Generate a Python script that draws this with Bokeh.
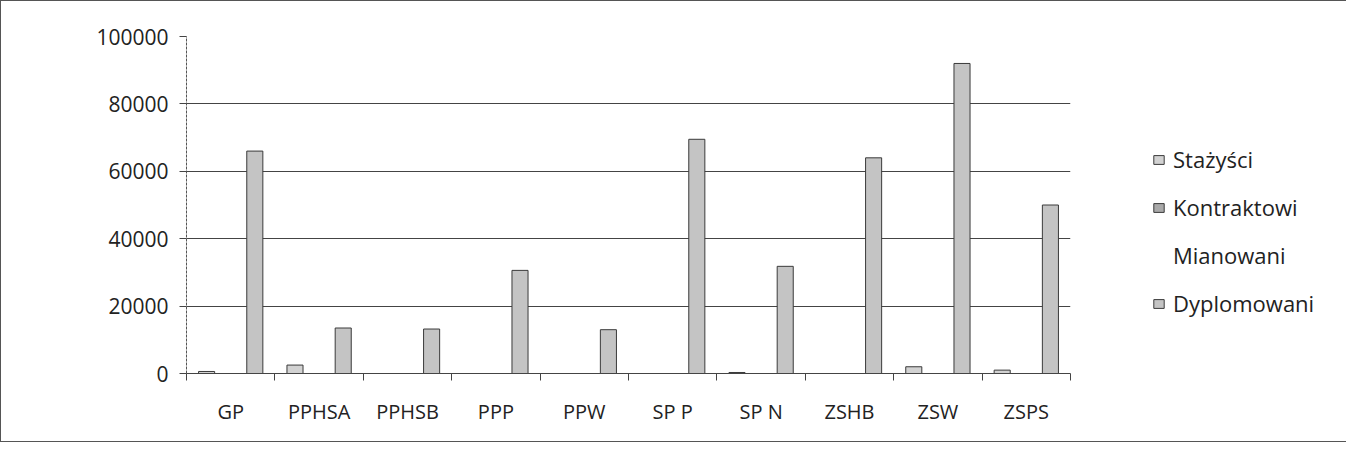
from bokeh.plotting import figure
from bokeh.models import FixedTicker, Legend, LegendItem, NumeralTickFormatter, ColumnDataSource, Range1d
from bokeh.embed import file_html
from bokeh.resources import INLINE
import numpy as np

categories = ["GP", "PPHSA", "PPHSB", "PPP", "PPW", "SP P", "SP N", "ZSHB", "ZSW", "ZSPS"]
series_names = ["Stażyści", "Kontraktowi", "Mianowani", "Dyplomowani"]
stazysci = [600, 2500, 0, 0, 0, 0, 300, 0, 2000, 1000]
kontraktowi = [0, 0, 0, 0, 0, 0, 0, 0, 0, 0]
mianowani = [0, 0, 0, 0, 0, 0, 0, 0, 0, 0]
dyplomowani = [66000, 13500, 13200, 30600, 13000, 69500, 31800, 64000, 92000, 50000]
y_ticks = [0, 20000, 40000, 60000, 80000, 100000]

series_values = [stazysci, kontraktowi, mianowani, dyplomowani]
fills = ["#d2d2d2", "#a9a9a9", None, "#c4c4c4"]
lines = ["#3a3a3a", "#3a3a3a", None, "#3a3a3a"]

FONT = "Open Sans"
n = len(categories)
gap = 1.5
bw = 1.0 / (len(series_names) + gap)

p = figure(frame_width=884, frame_height=337, min_border_left=185, min_border_right=263,
           min_border_top=35, min_border_bottom=68,
           x_range=Range1d(0, n), y_range=Range1d(0, 100000),
           output_backend="svg", toolbar_location=None)
p.styles = {"border": "1px solid #555"}
p.outline_line_color = None
p.background_fill_color = "white"
p.border_fill_color = "white"

idx = np.arange(n)
items = []
for k, (name, vals) in enumerate(zip(series_names, series_values)):
    xs = idx + bw * gap / 2 + (k + 0.5) * bw
    src = ColumnDataSource(dict(x=xs, top=vals))
    r = p.vbar(x="x", top="top", width=bw, source=src,
               fill_color=fills[k] if fills[k] else "white",
               fill_alpha=1.0 if fills[k] else 0.0,
               line_color=lines[k] if lines[k] else None, line_width=1)
    items.append(LegendItem(label=name, renderers=[r]))

# x axis
p.xaxis.ticker = FixedTicker(ticks=[i + 0.5 for i in range(n)], minor_ticks=list(range(n + 1)))
p.xaxis.major_label_overrides = {i + 0.5: c for i, c in enumerate(categories)}
p.xaxis.major_tick_line_color = None
p.xaxis.minor_tick_line_color = "#444"
p.xaxis.minor_tick_out = 7
p.xaxis.minor_tick_in = 0
p.xaxis.axis_line_color = "#444"
p.xaxis.major_label_text_font = FONT
p.xaxis.major_label_text_font_size = "20px"
p.xaxis.major_label_text_color = "#222"
p.xaxis.major_label_standoff = 17

# y axis
p.yaxis.ticker = FixedTicker(ticks=y_ticks)
p.yaxis.formatter = NumeralTickFormatter(format="0")
p.yaxis.major_tick_out = 7
p.yaxis.major_tick_in = 0
p.yaxis.minor_tick_line_color = None
p.yaxis.major_tick_line_color = "#444"
p.yaxis.axis_line_color = "#555"
p.yaxis.axis_line_dash = "3 1"
p.yaxis.major_label_text_font = FONT
p.yaxis.major_label_text_font_size = "21px"
p.yaxis.major_label_text_color = "#222"
p.yaxis.major_label_standoff = 11

p.xgrid.grid_line_color = None
p.ygrid.ticker = FixedTicker(ticks=y_ticks)
p.ygrid.grid_line_color = "#444"
p.ygrid.grid_line_width = 1

legend = Legend(items=items, location=(82, 55), orientation="vertical")
legend.label_text_font = FONT
legend.label_text_font_size = "22px"
legend.label_text_color = "#222"
legend.glyph_width = 13
legend.glyph_height = 11
legend.label_height = 24
legend.spacing = 18
legend.padding = 4
legend.margin = 0
legend.border_line_color = None
legend.background_fill_alpha = 0
legend.label_standoff = 8
p.add_layout(legend, "right")

open("out.html", "w").write(file_html(p, INLINE))
